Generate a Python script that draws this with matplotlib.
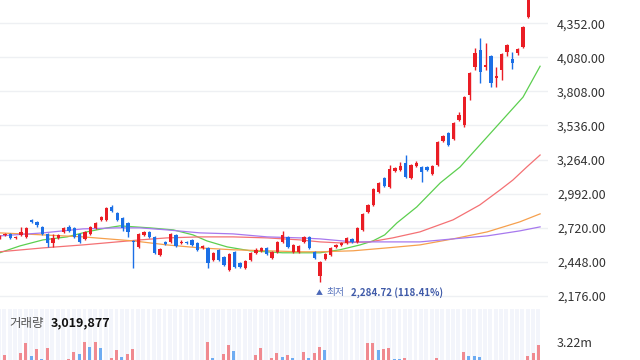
import matplotlib
matplotlib.use("Agg")
import matplotlib.pyplot as plt

plt.rcParams['font.family'] = ['Noto Sans CJK KR', 'DejaVu Sans']

# ---- daily candles (oldest -> newest) ----
opens = [2638, 2662, 2670, 2638, 2662, 2646, 2782, 2766, 2726, 2670,
         2598, 2638, 2686, 2726, 2718, 2670, 2630, 2670, 2718, 2782,
         2782, 2885, 2837, 2798, 2758, 2614, 2566, 2662, 2686, 2646,
         2503, 2606, 2606, 2662, 2598, 2606, 2622, 2598, 2558, 2558,
         2463, 2543, 2487, 2383, 2527, 2439, 2399, 2463, 2519, 2535,
         2558, 2479, 2527, 2606, 2646, 2527, 2527, 2606, 2646, 2527,
         2335, 2471, 2503, 2566, 2582, 2598, 2630, 2606, 2702, 2845,
         2901, 3005, 3116, 3045, 3172, 3180, 3236, 3116, 3212, 3204,
         3204, 3148, 3220, 3411, 3475, 3427, 3579, 3539, 3778, 4001,
         4137, 4001, 4089, 3913, 3977, 4121, 4065, 4113, 4160, 4400]
highs = [2662, 2678, 2678, 2654, 2726, 2726, 2790, 2774, 2734, 2678,
         2670, 2670, 2726, 2742, 2726, 2678, 2694, 2734, 2766, 2814,
         2885, 2901, 2845, 2806, 2766, 2622, 2678, 2694, 2694, 2654,
         2558, 2614, 2678, 2670, 2622, 2614, 2630, 2606, 2582, 2566,
         2527, 2551, 2495, 2519, 2535, 2447, 2463, 2527, 2558, 2566,
         2566, 2535, 2614, 2694, 2654, 2590, 2582, 2654, 2654, 2535,
         2455, 2519, 2566, 2590, 2606, 2646, 2638, 2726, 2837, 2909,
         3037, 3085, 3124, 3220, 3204, 3244, 3300, 3228, 3252, 3212,
         3212, 3220, 3411, 3459, 3483, 3563, 3642, 3770, 3961, 4152,
         4232, 4192, 4097, 4001, 4113, 4184, 4121, 4152, 4328, 4655]
lows = [2630, 2654, 2630, 2630, 2654, 2638, 2758, 2726, 2662, 2566,
        2566, 2630, 2678, 2686, 2638, 2598, 2622, 2662, 2710, 2774,
        2774, 2845, 2774, 2694, 2646, 2399, 2558, 2654, 2638, 2511,
        2495, 2582, 2598, 2566, 2590, 2590, 2574, 2535, 2551, 2399,
        2455, 2455, 2415, 2375, 2399, 2399, 2391, 2455, 2511, 2527,
        2503, 2471, 2519, 2598, 2558, 2519, 2519, 2598, 2551, 2471,
        2284.72, 2463, 2495, 2558, 2574, 2590, 2598, 2598, 2694, 2837,
        2893, 2997, 3045, 3037, 3164, 3172, 3116, 3108, 3204, 3085,
        3172, 3140, 3212, 3403, 3371, 3419, 3571, 3523, 3738, 3977,
        3874, 3977, 3842, 3842, 3897, 4089, 3985, 4097, 4152, 4392]
closes = [2654, 2670, 2638, 2646, 2686, 2718, 2766, 2742, 2670, 2598,
          2638, 2662, 2718, 2694, 2646, 2606, 2686, 2726, 2758, 2806,
          2877, 2853, 2782, 2718, 2686, 2606, 2670, 2686, 2646, 2519,
          2551, 2590, 2670, 2574, 2606, 2598, 2582, 2543, 2574, 2439,
          2519, 2463, 2423, 2511, 2407, 2407, 2455, 2519, 2543, 2558,
          2511, 2527, 2606, 2662, 2566, 2582, 2574, 2646, 2558, 2479,
          2447, 2511, 2558, 2582, 2598, 2638, 2606, 2718, 2830, 2901,
          3029, 3077, 3053, 3188, 3196, 3212, 3124, 3220, 3236, 3164,
          3180, 3212, 3403, 3451, 3379, 3555, 3618, 3762, 3953, 4113,
          3961, 4017, 3874, 3929, 4105, 4176, 4033, 4144, 4320, 4615]

# ---- moving averages (position in candle slots, price) ----
ma_green_x = [0, 3.8, 8.1, 12.6, 16.3, 20.1, 22.5, 25.3, 28.1, 32.5, 36.2, 38.8, 42.6,
              46.9, 53, 60, 63.7, 67.5, 69.9, 72.1, 74.4, 78.1, 82.5, 86.2, 89.9, 94.3, 98, 101.2]
ma_green_y = [2519, 2574, 2622, 2646, 2686, 2718, 2734, 2726, 2718, 2702, 2662, 2614, 2566,
              2535, 2519, 2519, 2543, 2582, 2614, 2662, 2758, 2885, 3077, 3204, 3379, 3587, 3762, 4009]
ma_red_x = [0, 8.1, 15.6, 22, 26.3, 31.3, 37.5, 43.7, 50.1, 56.2, 60, 63.7, 69.3, 73.6,
            78.7, 84.9, 89.9, 93.7, 96.1, 98.7, 101.2]
ma_red_y = [2527, 2558, 2582, 2606, 2622, 2638, 2646, 2646, 2638, 2622, 2606, 2598, 2606, 2638,
            2686, 2782, 2901, 3021, 3100, 3204, 3300]
ma_orange_x = [0, 8.1, 15.6, 25, 31.3, 37.5, 43.7, 50.1, 56.2, 60, 66.2, 72.5, 78.7, 84.9,
               91.3, 97.4, 101.2]
ma_orange_y = [2678, 2662, 2646, 2614, 2582, 2558, 2543, 2535, 2527, 2527, 2535, 2558, 2582,
               2630, 2686, 2766, 2830]
ma_purple_x = [0, 8.1, 15.6, 22, 26.3, 31.3, 37.5, 43.7, 50.1, 56.2, 60, 66.2, 72.5, 78.7,
               84.9, 91.3, 97.4, 101.2]
ma_purple_y = [2654, 2678, 2710, 2718, 2718, 2702, 2678, 2670, 2646, 2638, 2630, 2606, 2606,
               2606, 2630, 2654, 2694, 2726]

# ---- volume (millions) ----
volume = [1.6, 2.27, 1.7, 1.5, 2.41, 3.13, 2.20, 2.70, 1.98, 2.77,
          1.6, 1.5, 1.7, 1.98, 2.48, 2.34, 3.20, 2.84, 3.20, 2.77,
          1.8, 2.06, 2.63, 2.13, 2.34, 2.70, 1.8, 1.6, 1.5, 1.7,
          1.4, 1.6, 1.8, 1.5, 1.7, 1.6, 1.4, 1.5, 1.7, 3.20,
          2.06, 1.7, 2.34, 2.98, 2.56, 1.8, 1.6, 1.5, 2.27, 2.77,
          1.8, 2.06, 2.41, 2.13, 2.27, 2.06, 1.8, 2.48, 2.06, 2.41,
          2.84, 2.63, 1.7, 1.6, 1.5, 1.8, 1.6, 1.7, 1.5, 3.12,
          3.15, 2.63, 2.70, 2.77, 1.98, 1.95, 2.06, 1.7, 1.6, 1.8,
          1.5, 1.6, 2.06, 1.8, 1.6, 1.7, 1.5, 2.48, 2.20, 2.18,
          2.13, 1.7, 1.6, 1.8, 1.5, 1.6, 1.7, 1.5, 1.8, 2.20,
          2.41, 3.019877]
last_volume = "3,019,877"
low_label = "2,284.72 (118.41%)"
price_ticks = [2176, 2448, 2720, 2992, 3264, 3536, 3808, 4080, 4352]

UP = '#ea1d25'
DOWN = '#1b6fe6'
W, H = 640, 360

fig = plt.figure(figsize=(W / 100, H / 100), dpi=100)
ax = fig.add_axes([0, 55 / H, 548 / W, 305 / H])
axv = fig.add_axes([0, 0, 548 / W, 51 / H])

# price panel
idx = list(range(len(opens)))
cols = [UP if c >= o else DOWN for o, c in zip(opens, closes)]
ax.vlines(idx, lows, highs, colors=cols, linewidth=1, zorder=3)
bottoms = [min(o, c) for o, c in zip(opens, closes)]
heights = [max(abs(c - o), 8) for o, c in zip(opens, closes)]
ax.bar(idx, heights, bottom=bottoms, width=0.62, color=cols, linewidth=0, zorder=4)

ax.plot(ma_green_x, ma_green_y, color='#5ccf4f', lw=0.9, zorder=2)
ax.plot(ma_red_x, ma_red_y, color='#f47174', lw=0.9, zorder=2)
ax.plot(ma_orange_x, ma_orange_y, color='#f6a04d', lw=0.9, zorder=2)
ax.plot(ma_purple_x, ma_purple_y, color='#a779ee', lw=0.9, zorder=2)

ax.set_xlim(0.056, 102.68)
ax.set_ylim(2102, 4538)
ax.set_yticks(price_ticks)
ax.set_yticklabels([f"{t:,.2f}" for t in price_ticks])
ax.yaxis.tick_right()
ax.tick_params(axis='y', length=0, pad=6.5, labelsize=9, labelcolor='#333333')
ax.set_xticks([])
ax.yaxis.grid(True, color='#eef0f3', lw=1)
ax.set_axisbelow(True)
for s in ax.spines.values():
    s.set_visible(False)

# lowest price marker
lo_i = lows.index(min(lows))
lo_pt = (lo_i, lows[lo_i])
ax.annotate("▲", lo_pt, xytext=(-4, -11), textcoords='offset pixels',
            ha='left', va='center', fontsize=5, color='#4b68b8')
ax.annotate("최저", lo_pt, xytext=(6, -10), textcoords='offset pixels',
            ha='left', va='center', fontsize=7, color='#5470bb')
ax.annotate(low_label, lo_pt, xytext=(31, -10), textcoords='offset pixels',
            ha='left', va='center', fontsize=7, color='#3f5aa8', fontweight='bold')

# volume panel
vlo, vhi = 1.913, 5.556
vidx = list(range(len(volume)))
axv.bar(vidx, vhi - vlo, bottom=vlo, width=0.72, color='#f3f5fb', linewidth=0, zorder=1)
vcols = [UP] + [UP if volume[k] > volume[k - 1] else DOWN for k in range(1, len(volume))]
vcols = ['#f08a90' if c == UP else '#6eacf2' for c in vcols]
axv.bar(vidx, volume, width=0.56, color=vcols, linewidth=0, zorder=2)
axv.set_xlim(0.187, 102.8)
axv.set_ylim(vlo, vhi)
axv.set_yticks([3.22])
axv.set_yticklabels(["3.22m"])
axv.yaxis.tick_right()
axv.tick_params(axis='y', length=0, pad=6.5, labelsize=9, labelcolor='#333333')
axv.set_xticks([])
for s in axv.spines.values():
    s.set_visible(False)

fig.text(9 / W, 1 - 323 / H, "거래량", ha='left', va='center', fontsize=9, color='#555555')
fig.text(51 / W, 1 - 323 / H, last_volume, ha='left', va='center', fontsize=9,
         color='#111111', fontweight='bold')

fig.savefig("out.png", dpi=100)
